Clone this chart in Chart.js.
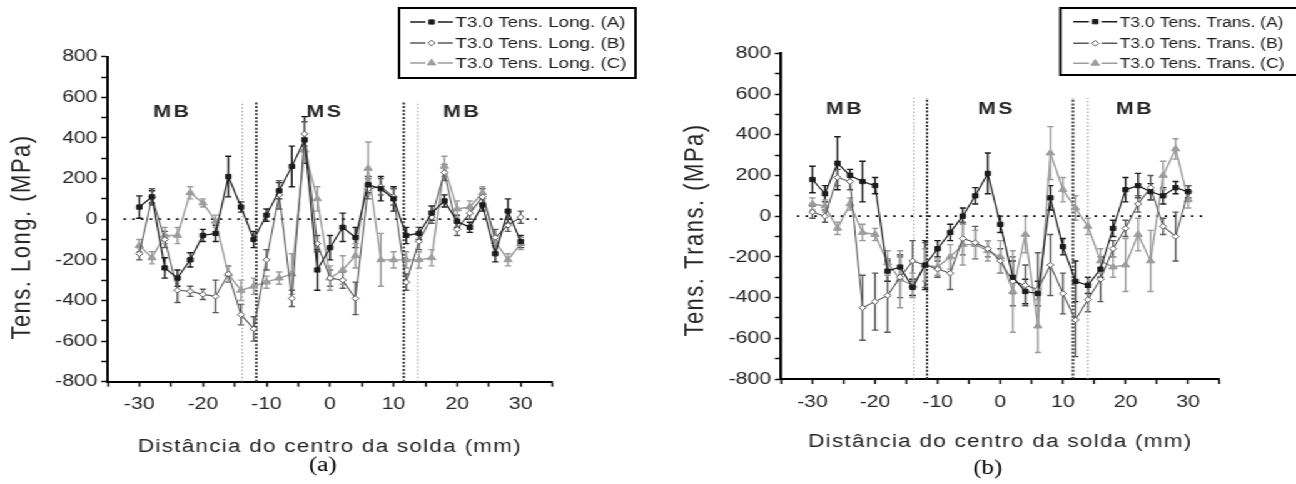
<!DOCTYPE html>
<html>
<head>
<meta charset="utf-8">
<script src="https://cdn.jsdelivr.net/npm/chart.js@4.4.1/dist/chart.umd.min.js"></script>
<style>
  html, body { margin: 0; padding: 0; background: #fff; overflow: hidden; }
  #stage { position: absolute; left: 0; top: 0; width: 1036px; height: 484px;
           transform: scaleX(1.251); transform-origin: 0 0; }
  #stage canvas { position: absolute; top: 0; }
  #long { left: 0; }
  #trans { left: 518px; }
</style>
</head>
<body>
<div id="stage">
  <canvas id="long" width="518" height="484"></canvas>
  <canvas id="trans" width="518" height="484"></canvas>
</div>
<script>
// measuring positions across the weld, mm
const distances = [-30, -28, -26, -24, -22, -20, -18, -16, -14, -12, -10, -8, -6, -4, -2, 0,
                   2, 4, 6, 8, 10, 12, 14, 16, 18, 20, 22, 24, 26, 28, 30];

// longitudinal residual stress, MPa
const longA    = [60, 110, -240, -290, -200, -80, -70, 210, 60, -100, 20, 140, 260, 390, -250, -140, -40, -90, 170, 150, 100, -80, -70, 30, 90, -10, -40, 70, -170, 40, -110];
const longAErr = [55, 30, 50, 40, 35, 30, 40, 100, 25, 40, 30, 40, 100, 115, 100, 60, 70, 50, 40, 60, 60, 40, 30, 35, 30, 30, 25, 30, 40, 60, 30];
const longB    = [-170, 110, -100, -350, -355, -370, -380, -270, -470, -540, -200, 120, -390, 420, -120, -290, -300, -390, 150, 160, 110, -310, -110, 10, 230, -50, 30, 110, -90, -30, 10];
const longBErr = [30, 40, 40, 60, 25, 25, 80, 40, 50, 60, 50, 70, 40, 60, 40, 40, 40, 80, 50, 40, 40, 40, 40, 30, 40, 30, 30, 40, 40, 30, 30];
const longC    = [-130, -190, -80, -80, 130, 80, -10, -270, -350, -330, -310, -290, -270, 340, 100, -290, -250, -180, 250, -200, -200, -200, -200, -190, 260, 50, 60, 130, -110, -200, -120];
const longCErr = [30, 30, 40, 40, 30, 20, 30, 40, 50, 40, 30, 30, 100, 60, 60, 60, 70, 60, 130, 130, 40, 40, 40, 40, 50, 40, 30, 30, 30, 30, 30];

// transverse residual stress, MPa
const transA    = [180, 110, 260, 200, 170, 150, -270, -250, -350, -240, -160, -80, 0, 100, 210, -40, -300, -370, -380, 90, -150, -320, -340, -260, -60, 130, 150, 120, 100, 140, 120];
const transAErr = [65, 40, 130, 30, 100, 40, 50, 60, 40, 120, 40, 40, 40, 40, 100, 40, 80, 60, 60, 60, 40, 100, 40, 40, 40, 60, 60, 40, 40, 30, 30];
const transB    = [20, 0, 190, 170, -450, -420, -390, -300, -220, -240, -260, -280, -110, -130, -160, -220, -320, -340, -360, -240, -380, -510, -410, -310, -160, -60, 60, 140, -50, -100, 120];
const transBErr = [30, 30, 40, 40, 160, 140, 180, 100, 100, 110, 40, 80, 80, 80, 40, 60, 120, 100, 180, 150, 100, 180, 60, 110, 40, 40, 40, 60, 40, 120, 30];
const transC    = [60, 50, -60, 60, -80, -90, -230, -310, -340, -240, -250, -200, -140, -140, -170, -200, -370, -90, -540, 310, 130, 40, -50, -220, -250, -240, -90, -220, 200, 330, 80];
const transCErr = [30, 30, 30, 30, 40, 30, 60, 140, 60, 80, 40, 60, 100, 70, 50, 80, 200, 90, 130, 130, 60, 60, 40, 60, 50, 130, 80, 150, 70, 50, 40];

const longLabels  = ['T3.0 Tens. Long. (A)', 'T3.0 Tens. Long. (B)', 'T3.0 Tens. Long. (C)'];
const transLabels = ['T3.0 Tens. Trans. (A)', 'T3.0 Tens. Trans. (B)', 'T3.0 Tens. Trans. (C)'];

const xTickLabels = [-30, -20, -10, 0, 10, 20, 30];
const yTickLabels = [-800, -600, -400, -200, 0, 200, 400, 600, 800];

// zone limits (base metal / weld metal) and zone names
const zoneNames = ['MB', 'MS', 'MB'];
const longZoneCentres  = [-24.8, -0.8, 20.8];
const transZoneCentres = [-24.8, -0.6, 21.5];
const longBoundaries  = [-13.8, -11.6, 11.6, 13.8];
const transBoundaries = [-13.8, -11.7, 11.6, 14.0];

const FONT = '"Liberation Sans", Arial, sans-serif';

const seriesStyle = [
  { color: '#1c1c1c', width: 1.2, point: 'rect',     radius: 3,   fill: '#1c1c1c' },
  { color: '#5a5a5a', width: 1.1, point: 'rectRot',  radius: 2.8, fill: '#ffffff' },
  { color: '#9c9c9c', width: 1.4, point: 'triangle', radius: 3.8, fill: '#9c9c9c' }
];

function series(label, values, errors, s) {
  return {
    label, errors, legend: true, markerStyle: s,
    data: values.map((v, i) => ({ x: distances[i], y: v })),
    showLine: true,
    borderColor: s.color,
    borderWidth: s.width,
    pointStyle: s.point,
    pointRadius: s.radius,
    pointBackgroundColor: s.fill,
    pointBorderColor: s.color,
    pointBorderWidth: 1,
    order: 1
  };
}

function guide(xs, ys, color, width, dash) {
  return {
    data: xs.map((x, i) => ({ x, y: ys[i] })),
    showLine: true, borderColor: color, borderWidth: width, borderDash: dash,
    pointRadius: 0, order: 5
  };
}

function guides(bounds) {
  const out = [guide([-32.5, 32.5], [0, 0], '#111', 1.8, [2, 5])];
  bounds.forEach((b, i) => {
    const inner = i === 1 || i === 2;
    out.push(guide([b, b], [-800, 580], inner ? '#3a3a3a' : '#a0a0a0', inner ? 2 : 1.1, inner ? [2, 1.6] : [1.5, 2]));
  });
  return out;
}

const errorBars = {
  id: 'errorBars',
  beforeDatasetsDraw(chart) {
    const { ctx, scales: { x, y } } = chart;
    ctx.save();
    chart.data.datasets.forEach(ds => {
      if (!ds.errors) return;
      ctx.strokeStyle = ds.borderColor;
      ctx.lineWidth = 1.4;
      ds.data.forEach((p, i) => {
        const e = ds.errors[i];
        const px = x.getPixelForValue(p.x);
        const hi = y.getPixelForValue(p.y + e);
        const lo = y.getPixelForValue(p.y - e);
        ctx.beginPath();
        ctx.moveTo(px, hi); ctx.lineTo(px, lo);
        ctx.moveTo(px - 2.5, hi); ctx.lineTo(px + 2.5, hi);
        ctx.moveTo(px - 2.5, lo); ctx.lineTo(px + 2.5, lo);
        ctx.stroke();
      });
    });
    ctx.restore();
  }
};

function marker(ctx, s, cx, cy) {
  ctx.fillStyle = s.fill;
  ctx.strokeStyle = s.color;
  ctx.lineWidth = 1;
  ctx.beginPath();
  const r = s.radius;
  if (s.point === 'rect') {
    const h = r * Math.SQRT1_2;
    ctx.rect(cx - h, cy - h, 2 * h, 2 * h);
  } else if (s.point === 'rectRot') {
    ctx.moveTo(cx, cy - r); ctx.lineTo(cx + r, cy); ctx.lineTo(cx, cy + r); ctx.lineTo(cx - r, cy); ctx.closePath();
  } else {
    ctx.moveTo(cx, cy - r); ctx.lineTo(cx + r * 0.87, cy + r * 0.5); ctx.lineTo(cx - r * 0.87, cy + r * 0.5); ctx.closePath();
  }
  ctx.fill();
  ctx.stroke();
}

const panelDecor = {
  id: 'panelDecor',
  afterDraw(chart, args, o) {
    const { ctx, chartArea: a, scales: { x, y } } = chart;
    ctx.save();
    ctx.fillStyle = '#262626';
    ctx.textAlign = 'center';
    ctx.textBaseline = 'middle';

    // zone names
    ctx.font = 'bold 17px ' + FONT;
    ctx.letterSpacing = '2px';
    zoneNames.forEach((n, i) => {
      ctx.fillText(n, x.getPixelForValue(o.zoneCentres[i]), y.getPixelForValue(o.zoneLevel));
    });

    // axis titles
    ctx.font = '18px ' + FONT;
    ctx.letterSpacing = '1px';
    ctx.fillText(o.xTitle, (a.left + a.right) / 2, o.xTitleY);

    ctx.save();
    ctx.font = '22px ' + FONT;
    ctx.letterSpacing = '1.5px';
    ctx.translate(o.yTitleX, o.yTitleY);
    ctx.rotate(-Math.PI / 2);
    ctx.fillText(o.yTitle, 0, 0);
    ctx.restore();

    // panel caption
    ctx.letterSpacing = '0px';
    ctx.font = '20px "Liberation Serif", "Times New Roman", serif';
    ctx.fillStyle = '#000';
    ctx.fillText(o.caption, o.captionX, o.captionY);

    // boxed legend
    const L = o.legendBox;
    ctx.fillStyle = '#fff';
    ctx.fillRect(L.x, L.y, L.w, L.h);
    ctx.strokeStyle = '#000';
    ctx.lineWidth = 2;
    ctx.strokeRect(L.x, L.y, L.w, L.h);
    ctx.textAlign = 'left';
    ctx.font = L.font + 'px ' + FONT;
    const entries = chart.data.datasets.filter(d => d.legend);
    entries.forEach((d, i) => {
      const cy = L.rows[i];
      const mid = L.sampleLeft + L.sampleWidth / 2;
      ctx.strokeStyle = d.borderColor;
      ctx.lineWidth = 1.6;
      ctx.beginPath();
      ctx.moveTo(L.sampleLeft, cy); ctx.lineTo(mid - 5, cy);
      ctx.moveTo(mid + 5, cy); ctx.lineTo(L.sampleLeft + L.sampleWidth, cy);
      ctx.stroke();
      marker(ctx, d.markerStyle, mid, cy);
      ctx.fillStyle = '#1e1e1e';
      ctx.fillText(d.label, L.textLeft, cy + 1);
    });
    ctx.restore();
  }
};

function buildChart(id, values, errors, labels, bounds, geom, decor) {
  const sets = values.map((v, i) => series(labels[i], v, errors[i], seriesStyle[i]));
  const axisGrid = { display: true, drawOnChartArea: false, drawTicks: true, tickLength: 5, tickColor: '#111', tickWidth: 1.5 };
  const axisBorder = { display: true, color: '#000', width: 2 };
  return new Chart(document.getElementById(id), {
    type: 'scatter',
    data: { datasets: sets.concat(guides(bounds)) },
    options: {
      responsive: false,
      animation: false,
      layout: { padding: { left: 0, right: geom.right, top: geom.top, bottom: geom.bottom } },
      plugins: { legend: { display: false }, tooltip: { enabled: false }, panelDecor: decor },
      scales: {
        x: {
          type: 'linear', min: -35, max: 35,
          afterFit: s => { s.height = 78; },
          grid: axisGrid, border: axisBorder,
          ticks: {
            stepSize: 5, autoSkip: false, maxRotation: 0, padding: geom.xPad,
            color: '#262626', font: { size: 17, family: FONT },
            callback: v => xTickLabels.includes(v) ? String(v) : ''
          }
        },
        y: {
          type: 'linear', min: -800, max: 800,
          afterFit: s => { s.width = geom.axisLeft; },
          grid: axisGrid, border: axisBorder,
          ticks: {
            stepSize: 100, autoSkip: false, padding: 3,
            color: '#262626', font: { size: 17, family: FONT },
            callback: v => yTickLabels.includes(v) ? String(v) : ''
          }
        }
      }
    },
    plugins: [errorBars, panelDecor]
  });
}

buildChart('long',
  [longA, longB, longC], [longAErr, longBErr, longCErr], longLabels, longBoundaries,
  { axisLeft: 86, right: 76.4, top: 56.7, bottom: 24.3, xPad: 7 },
  {
    zoneCentres: longZoneCentres, zoneLevel: 525,
    xTitle: 'Distância do centro da solda (mm)', xTitleY: 447,
    yTitle: 'Tens. Long. (MPa)', yTitleX: 18, yTitleY: 237,
    caption: '(a)', captionX: 258, captionY: 466,
    legendBox: { x: 319, y: 8, w: 189, h: 70, sampleLeft: 328, sampleWidth: 34, textLeft: 364, rows: [22, 43, 63], font: 15 }
  });

buildChart('trans',
  [transA, transB, transC], [transAErr, transBErr, transCErr], transLabels, transBoundaries,
  { axisLeft: 106.4, right: 61.2, top: 53.3, bottom: 27, xPad: 8 },
  {
    zoneCentres: transZoneCentres, zoneLevel: 525,
    xTitle: 'Distância do centro da solda (mm)', xTitleY: 442,
    yTitle: 'Tens. Trans. (MPa)', yTitleX: 38, yTitleY: 230,
    caption: '(b)', captionX: 271.6, captionY: 469,
    legendBox: { x: 329.6, y: 8, w: 200, h: 67, sampleLeft: 340, sampleWidth: 35, textLeft: 377, rows: [21.7, 43.3, 63.3], font: 14 }
  });
</script>
</body>
</html>
